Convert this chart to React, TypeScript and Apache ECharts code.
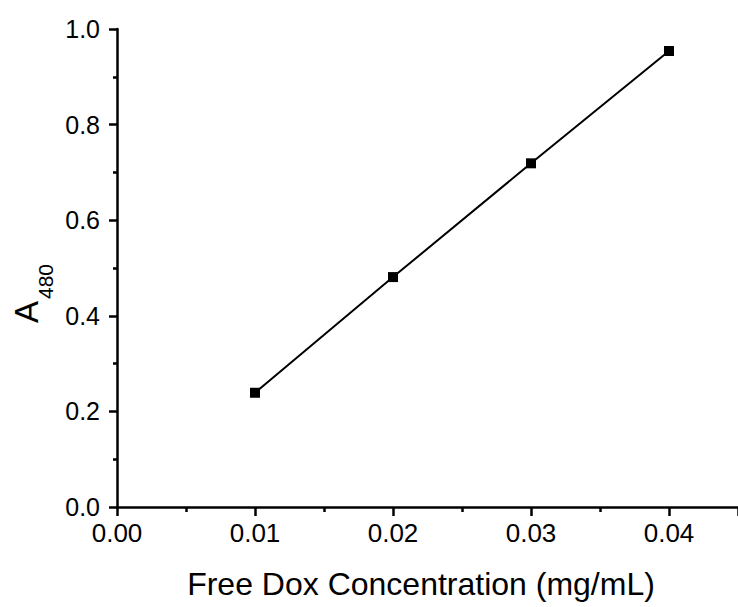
import React, { useEffect, useRef } from "react";
import * as echarts from "echarts";

const concentrations = [0.01, 0.02, 0.03, 0.04];
const absorbance = [0.239, 0.481, 0.719, 0.954];
const xTitle = "Free Dox Concentration (mg/mL)";
const yTitleMain = "A";
const yTitleSub = "480";

const FONT = "'Liberation Sans', Arial, Helvetica, sans-serif";

export default function App() {
  const ref = useRef<HTMLDivElement>(null);
  useEffect(() => {
    if (!ref.current) return;
    const chart = echarts.init(ref.current, null, { renderer: "svg" });
    const data = concentrations.map((c, i) => [c, absorbance[i]]);
    chart.setOption({
      animation: false,
      backgroundColor: "#fff",
      grid: { left: 117, right: -5, top: 29, bottom: 100, containLabel: false },
      xAxis: {
        type: "value",
        min: 0,
        max: 0.045,
        interval: 0.01,
        axisLine: { show: true, onZero: false, lineStyle: { color: "#000", width: 2.5 } },
        axisTick: { show: true, inside: false, length: 9, lineStyle: { color: "#000", width: 2.5 } },
        minorTick: { show: true, splitNumber: 2, length: 5, lineStyle: { color: "#000", width: 2.5 } },
        splitLine: { show: false },
        axisLabel: {
          color: "#000",
          fontSize: 26,
          fontFamily: FONT,
          margin: 13,
          showMaxLabel: false,
          formatter: (v: number) => v.toFixed(2),
        },
      },
      yAxis: {
        type: "value",
        min: 0,
        max: 1.0,
        interval: 0.2,
        axisLine: { show: true, onZero: false, lineStyle: { color: "#000", width: 2.5 } },
        axisTick: { show: true, inside: false, length: 8, lineStyle: { color: "#000", width: 2.5 } },
        minorTick: { show: true, splitNumber: 2, length: 4, lineStyle: { color: "#000", width: 2.5 } },
        splitLine: { show: false },
        axisLabel: {
          color: "#000",
          fontSize: 25,
          fontFamily: FONT,
          margin: 17,
          formatter: (v: number) => v.toFixed(1),
        },
      },
      series: [
        {
          type: "line",
          data,
          symbol: "rect",
          symbolSize: 10,
          lineStyle: { color: "#000", width: 2 },
          itemStyle: { color: "#000" },
          clip: false,
        },
      ],
      graphic: [
        {
          type: "text",
          x: 421,
          y: 584,
          style: {
            text: xTitle,
            fill: "#000",
            fontSize: 32,
            fontFamily: FONT,
            align: "center",
            verticalAlign: "middle",
          },
        },
        {
          type: "group",
          x: 26,
          y: 323,
          rotation: Math.PI / 2,
          children: [
            {
              type: "text",
              x: 0,
              y: 0,
              style: {
                text: yTitleMain,
                fill: "#000",
                fontSize: 33,
                fontFamily: FONT,
                align: "left",
                verticalAlign: "middle",
              },
            },
            {
              type: "text",
              x: 24,
              y: 19,
              style: {
                text: yTitleSub,
                fill: "#000",
                fontSize: 21,
                fontFamily: FONT,
                align: "left",
                verticalAlign: "middle",
              },
            },
          ],
        },
      ],
    });
    return () => chart.dispose();
  }, []);
  return (
    <div
      ref={ref}
      style={{ position: "fixed", left: 0, top: 0, width: 738, height: 607 }}
    />
  );
}
